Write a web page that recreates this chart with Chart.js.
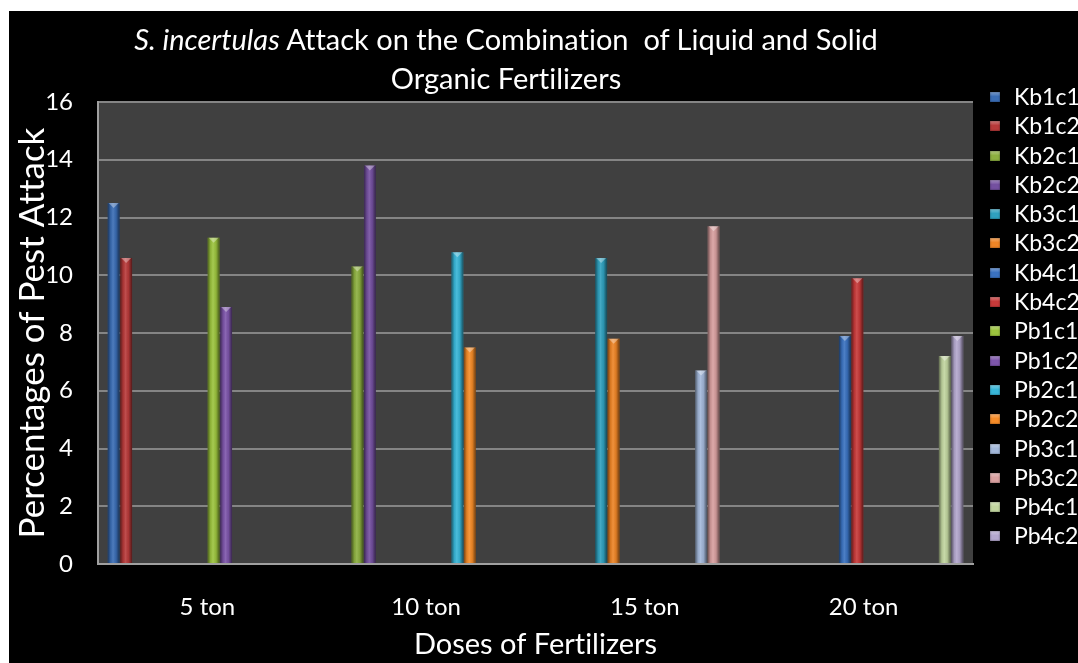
<!DOCTYPE html>
<html>
<head>
<meta charset="utf-8">
<script src="https://cdn.jsdelivr.net/npm/chart.js@4.4.1/dist/chart.umd.min.js"></script>
<style>
  html, body { margin: 0; padding: 0; background: #ffffff; width: 1078px; height: 663px; overflow: hidden; }
  #wrap { position: absolute; left: 9px; top: 11px; width: 1069px; height: 652px; background: #000000; overflow: hidden; }
  #title { position: absolute; left: 0; top: 8px; width: 994px; text-align: center; color: #ffffff;
           font-family: Lato, "Open Sans", sans-serif; font-size: 29px; line-height: 39px;
           font-variant-ligatures: none; }
  #legend { position: absolute; left: 981px; top: 71px; color: #ffffff; font-family: Lato, "Open Sans", sans-serif;
            font-size: 23px; font-variant-ligatures: none; }
  .item { height: 29.3px; line-height: 29.3px; white-space: nowrap; position: relative; }
  .box { position: absolute; left: 0; top: 10px; width: 10px; height: 10px; }
  .lbl { position: absolute; left: 24px; top: 0; }
  canvas { font-variant-ligatures: none; }
</style>
</head>
<body>
<div id="wrap">
  <canvas id="c"></canvas>
  <div id="title"><i>S. incertulas</i> Attack on the Combination&nbsp; of Liquid and Solid<br>Organic Fertilizers</div>
  <div id="legend"></div>
</div>
<script>
// ---- data ----
const categories = ['5 ton', '10 ton', '15 ton', '20 ton'];
const seriesNames = ['Kb1c1','Kb1c2','Kb2c1','Kb2c2','Kb3c1','Kb3c2','Kb4c1','Kb4c2',
                     'Pb1c1','Pb1c2','Pb2c1','Pb2c2','Pb3c1','Pb3c2','Pb4c1','Pb4c2'];
const Kb1c1 = [12.5, null, null, null];
const Kb1c2 = [10.6, null, null, null];
const Kb2c1 = [null, 10.3, null, null];
const Kb2c2 = [null, 13.8, null, null];
const Kb3c1 = [null, null, 10.6, null];
const Kb3c2 = [null, null, 7.8, null];
const Kb4c1 = [null, null, null, 7.9];
const Kb4c2 = [null, null, null, 9.9];
const Pb1c1 = [11.3, null, null, null];
const Pb1c2 = [8.9, null, null, null];
const Pb2c1 = [null, 10.8, null, null];
const Pb2c2 = [null, 7.5, null, null];
const Pb3c1 = [null, null, 6.7, null];
const Pb3c2 = [null, null, 11.7, null];
const Pb4c1 = [null, null, null, 7.2];
const Pb4c2 = [null, null, null, 7.9];
const seriesValues = [Kb1c1,Kb1c2,Kb2c1,Kb2c2,Kb3c1,Kb3c2,Kb4c1,Kb4c2,
                      Pb1c1,Pb1c2,Pb2c1,Pb2c2,Pb3c1,Pb3c2,Pb4c1,Pb4c2];
const yTicks = [0, 2, 4, 6, 8, 10, 12, 14, 16];
const seriesColors = ['#3A6DB5','#B83A3A','#8DB040','#7450A0','#2FA0BE','#EE8526','#3A72C0','#C83A3A',
                      '#9CC43E','#7D55AA','#38B6D8','#F68C28','#A3B8DA','#D9A0A0','#C2D6A0','#B4A8CE'];

// ---- legend (HTML) ----
const legendEl = document.getElementById('legend');
seriesNames.forEach((n, i) => {
  const it = document.createElement('div');
  it.className = 'item';
  const b = document.createElement('span');
  b.className = 'box';
  b.style.background = 'linear-gradient(180deg, rgba(255,255,255,0.35) 0%, rgba(255,255,255,0) 45%), ' + seriesColors[i];
  b.style.boxShadow = 'inset 0 0 2px rgba(0,0,0,0.6)';
  const t = document.createElement('span');
  t.className = 'lbl';
  t.textContent = n;
  it.appendChild(b); it.appendChild(t);
  legendEl.appendChild(it);
});

// ---- plugins ----
const plotBg = {
  id: 'plotBg',
  beforeDraw(chart) {
    const {ctx, chartArea: a} = chart;
    ctx.save();
    ctx.fillStyle = '#404040';
    ctx.fillRect(a.left, a.top, a.right - a.left, a.bottom - a.top);
    ctx.restore();
  }
};
const shade = {
  id: 'shade',
  afterDatasetsDraw(chart) {
    const ctx = chart.ctx;
    chart.data.datasets.forEach((ds, di) => {
      const meta = chart.getDatasetMeta(di);
      meta.data.forEach((el, idx) => {
        if (ds.data[idx] == null) return;
        const {x, y, width, base} = el.getProps(['x','y','width','base'], true);
        const l = x - width / 2, r = x + width / 2;
        ctx.save();
        const g = ctx.createLinearGradient(l, 0, r, 0);
        g.addColorStop(0, 'rgba(0,0,0,0.5)');
        g.addColorStop(0.25, 'rgba(0,0,0,0.08)');
        g.addColorStop(0.45, 'rgba(255,255,255,0.1)');
        g.addColorStop(0.7, 'rgba(0,0,0,0.08)');
        g.addColorStop(1, 'rgba(0,0,0,0.55)');
        ctx.fillStyle = g;
        ctx.fillRect(l, y, width, base - y);
        ctx.beginPath();
        ctx.moveTo(l + 1, y);
        ctx.lineTo(r - 1, y);
        ctx.lineTo(x, y + 5);
        ctx.closePath();
        ctx.fillStyle = 'rgba(255,255,255,0.35)';
        ctx.fill();
        ctx.restore();
      });
    });
  }
};

const datasets = seriesNames.map((n, i) => ({
  label: n,
  data: seriesValues[i],
  backgroundColor: seriesColors[i],
  borderWidth: 0,
  categoryPercentage: 0.914,
  barPercentage: 0.95
}));

new Chart(document.getElementById('c'), {
  type: 'bar',
  data: { labels: categories, datasets },
  plugins: [plotBg, shade],
  options: {
    responsive: true,
    maintainAspectRatio: false,
    animation: false,
    layout: { padding: { top: 91, right: 105, bottom: 0, left: 0 } },
    plugins: { legend: { display: false }, title: { display: false }, tooltip: { enabled: false } },
    scales: {
      x: {
        grid: { display: false, drawTicks: false },
        border: { color: '#a0a0a0', width: 2 },
        ticks: { color: '#ffffff', font: { family: 'Lato', size: 24 }, padding: 29 },
        title: { display: true, text: 'Doses of Fertilizers', color: '#ffffff',
                 font: { family: 'Lato', size: 29 }, padding: { top: 0, bottom: 1 } },
        afterFit(s) { s.height = 99; }
      },
      y: {
        min: 0, max: 16,
        afterBuildTicks(s) { s.ticks = yTicks.map(v => ({ value: v })); },
        grid: { color: '#858585', lineWidth: 2, drawTicks: false },
        border: { color: '#a0a0a0', width: 2 },
        ticks: { color: '#ffffff', font: { family: 'Lato', size: 24 }, padding: 25 },
        title: { display: true, text: 'Percentages of Pest Attack', color: '#ffffff',
                 font: { family: 'Lato', size: 35 }, padding: { top: 3, bottom: 0 } },
        afterFit(s) { s.width = 89; }
      }
    }
  }
});
</script>
</body>
</html>
